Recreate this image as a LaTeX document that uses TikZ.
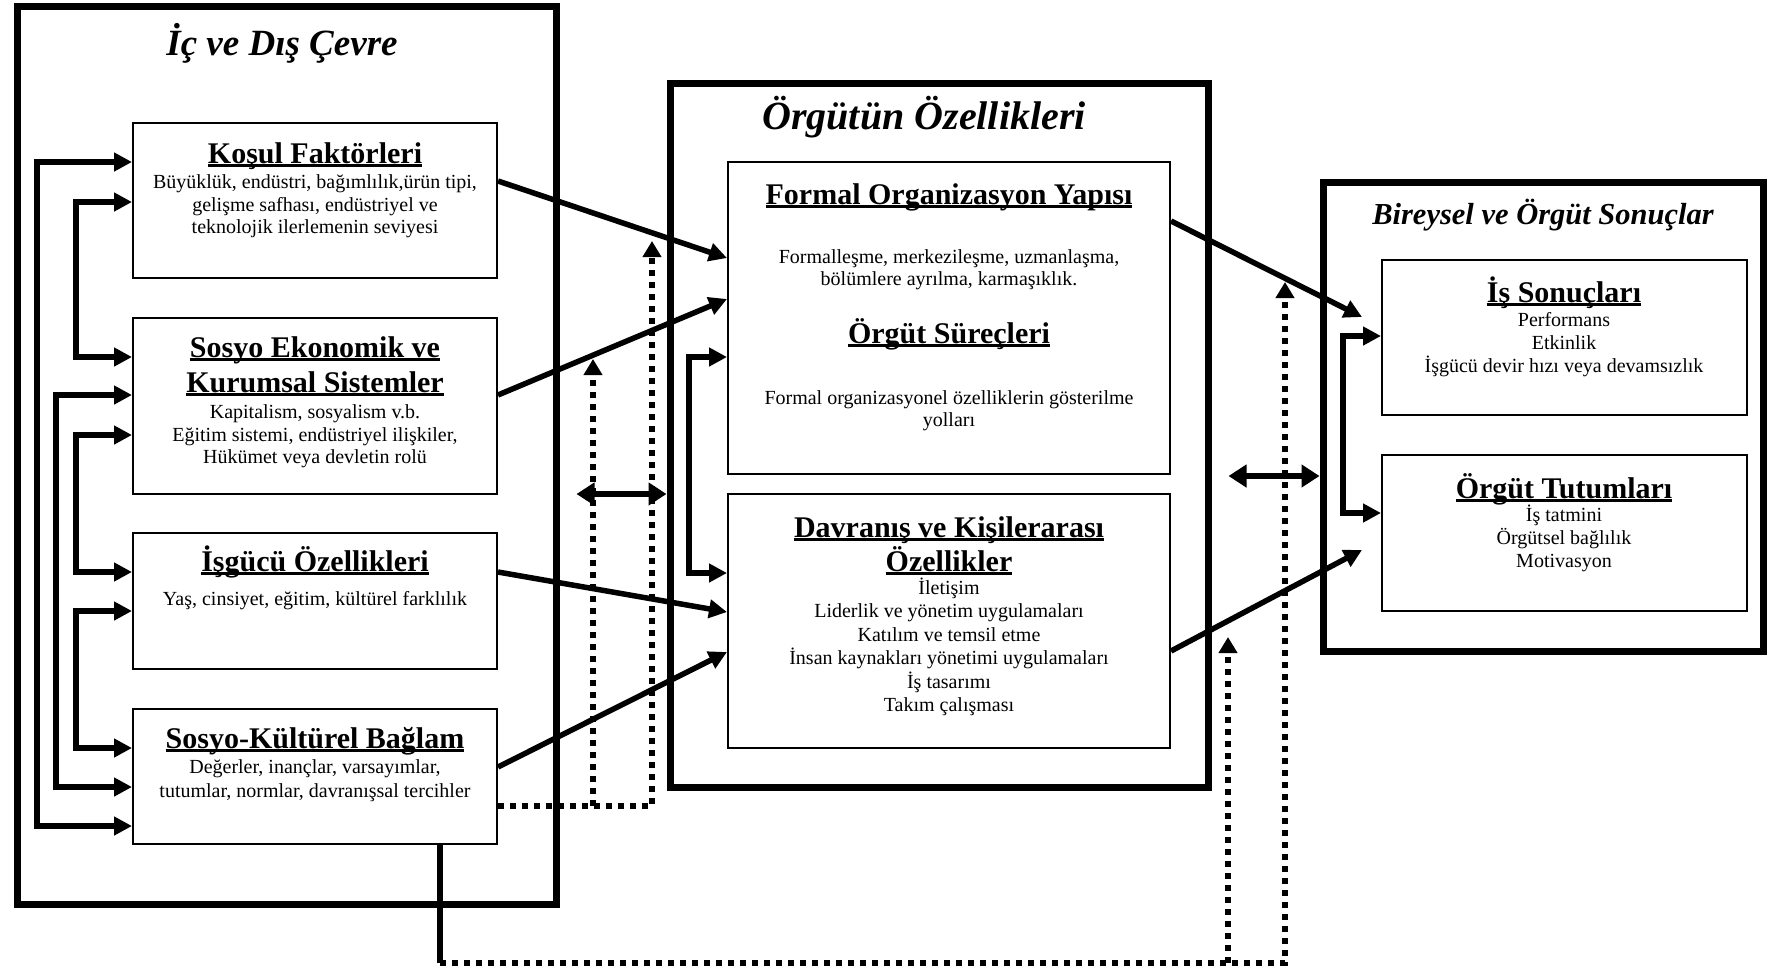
\documentclass[tikz,border=0pt]{standalone}
\usepackage{fontspec}
\setmainfont{Liberation Serif}
\usetikzlibrary{arrows.meta,calc}
\newcommand\myul[1]{\setbox0=\hbox{#1}\rlap{\rule[-3.5pt]{\wd0}{2.5pt}}\box0}
\begin{document}
\begin{tikzpicture}[x=1pt,y=-1pt,
  outerbox/.style={draw,line width=7pt,inner sep=0pt},
  inbox/.style={draw,line width=2pt,inner sep=0pt},
  conn/.style={line width=5.5pt,-{Triangle[length=18pt,width=18pt]}},
  brk/.style={line width=6pt,line join=miter,{Triangle[length=18pt,width=18pt]}-{Triangle[length=18pt,width=18pt]}},
  dbl/.style={line width=6.5pt,{Triangle[length=18pt,width=22pt]}-{Triangle[length=18pt,width=22pt]}},
  dotl/.style={line width=6pt,dash pattern=on 6pt off 6pt,-{Triangle[length=16pt,width=18pt]}},
  head/.style={inner sep=0pt,anchor=base,font=\fontsize{30}{34}\selectfont\bfseries},
  body/.style={inner sep=0pt,anchor=base,font=\fontsize{20}{23}\selectfont},
  ttl/.style={inner sep=0pt,anchor=base,font=\fontsize{37}{42}\selectfont\bfseries\itshape},
  ttlm/.style={inner sep=0pt,anchor=base,font=\fontsize{40}{45}\selectfont\bfseries\itshape},
  ttls/.style={inner sep=0pt,anchor=base,font=\fontsize{30.5}{34}\selectfont\bfseries\itshape}
]
\useasboundingbox (0,0) rectangle (1767,970);
\fill[white] (0,0) rectangle (1767,970);

% outer boxes
\node[outerbox,minimum width=539pt,minimum height=898pt] (env) at (286.5,455) {};
\node[outerbox,minimum width=538pt,minimum height=704pt] (org) at (939,435) {};
\node[outerbox,minimum width=440pt,minimum height=469pt] (res) at (1543,416.5) {};

% inner boxes
\node[inbox,minimum width=364pt,minimum height=155pt] (kosul) at (315,200.5) {};
\node[inbox,minimum width=364pt,minimum height=176pt] (sek) at (315,406) {};
\node[inbox,minimum width=364pt,minimum height=136pt] (isg) at (315,601) {};
\node[inbox,minimum width=364pt,minimum height=135pt] (skb) at (315,776.5) {};
\node[inbox,minimum width=442pt,minimum height=312pt] (formal) at (949,318) {};
\node[inbox,minimum width=442pt,minimum height=254pt] (dav) at (949,621) {};
\node[inbox,minimum width=365pt,minimum height=155pt] (issn) at (1564.5,337.5) {};
\node[inbox,minimum width=365pt,minimum height=156pt] (orgt) at (1564.5,533) {};

% titles
\node[ttl] (t1) at (282,55) {İç ve Dış Çevre};
\node[ttlm] (t2) at (924,129) {Örgütün Özellikleri};
\node[ttls] (t3) at (1543,224) {Bireysel ve Örgüt Sonuçlar};

% left texts
\node[head] (k0) at (315,163) {\myul{Koşul Faktörleri}};
\node[body] (k1) at (315,188) {Büyüklük, endüstri, bağımlılık,ürün tipi,};
\node[body] (k2) at (315,211) {gelişme safhası, endüstriyel ve};
\node[body] (k3) at (315,233) {teknolojik ilerlemenin seviyesi};

\node[head] (s0) at (315,357) {\myul{Sosyo Ekonomik ve}};
\node[head] (s0b) at (315,392) {\myul{Kurumsal Sistemler}};
\node[body] (s1) at (315,418) {Kapitalism, sosyalism v.b.};
\node[body] (s2) at (315,441) {Eğitim sistemi, endüstriyel ilişkiler,};
\node[body] (s3) at (315,463) {Hükümet veya devletin rolü};

\node[head] (i0) at (315,571) {\myul{İşgücü Özellikleri}};
\node[body] (i1) at (315,605) {Yaş, cinsiyet, eğitim, kültürel farklılık};

\node[head] (b0) at (315,748) {\myul{Sosyo-Kültürel Bağlam}};
\node[body] (b1) at (315,773) {Değerler, inançlar, varsayımlar,};
\node[body] (b2) at (315,797) {tutumlar, normlar, davranışsal tercihler};

% middle texts
\node[head] (f0) at (949,204) {\myul{Formal Organizasyon Yapısı}};
\node[body] (f1) at (949,263) {Formalleşme, merkezileşme, uzmanlaşma,};
\node[body] (f2) at (949,285) {bölümlere ayrılma, karmaşıklık.};
\node[head] (p0) at (949,343) {\myul{Örgüt Süreçleri}};
\node[body] (p1) at (949,404) {Formal organizasyonel özelliklerin gösterilme};
\node[body] (p2) at (949,426) {yolları};

\node[head] (d0) at (949,537) {\myul{Davranış ve Kişilerarası}};
\node[head] (d0b) at (949,571) {\myul{Özellikler}};
\node[body] (d1) at (949,594) {İletişim};
\node[body] (d2) at (949,617.5) {Liderlik ve yönetim uygulamaları};
\node[body] (d3) at (949,641) {Katılım ve temsil etme};
\node[body] (d4) at (949,664.5) {İnsan kaynakları yönetimi uygulamaları};
\node[body] (d5) at (949,688) {İş tasarımı};
\node[body] (d6) at (949,711.5) {Takım çalışması};

% right texts
\node[head] (r0) at (1564,302) {\myul{İş Sonuçları}};
\node[body] (r1) at (1564,326) {Performans};
\node[body] (r2) at (1564,349) {Etkinlik};
\node[body] (r3) at (1564,372) {İşgücü devir hızı veya devamsızlık};
\node[head] (o0) at (1564,498) {\myul{Örgüt Tutumları}};
\node[body] (o1) at (1564,521) {İş tatmini};
\node[body] (o2) at (1564,544) {Örgütsel bağlılık};
\node[body] (o3) at (1564,567) {Motivasyon};

% left brackets
\draw[brk] (kosul.west |- 0,162) -| (37,500) |- (skb.west |- 0,826);
\draw[brk] (kosul.west |- 0,202) -| (76,280) |- (sek.west |- 0,357);
\draw[brk] (sek.west |- 0,395) -| (56,600) |- (skb.west |- 0,787);
\draw[brk] (sek.west |- 0,435) -| (76,500) |- (isg.west |- 0,572);
\draw[brk] (isg.west |- 0,611) -| (76,680) |- (skb.west |- 0,748);

% middle and right brackets
\draw[brk] (formal.west |- 0,357) -| (689,460) |- (dav.west |- 0,573);
\draw[brk] (issn.west |- 0,336) -| (1343,420) |- (orgt.west |- 0,513);

% dotted feedback lines
\coordinate (j1) at (593,806);
\draw[dotl] (skb.east |- 0,806) -| (652,241);
\draw[dotl] (j1) -- (593,359);
\coordinate (c1) at (440,963);
\draw[line width=5.5pt] (skb.south -| c1) -- (c1);
\coordinate (j2) at (1228,963);
\draw[dotl] (c1) -| (1285,282);
\draw[dotl] (j2) -- (1228,637);

% diagonal arrows
\draw[conn] (kosul.east |- 0,181) -- (formal.west |- 0,258);
\draw[conn] (sek.east |- 0,395) -- (formal.west |- 0,299);
\draw[conn] (isg.east |- 0,572) -- (dav.west |- 0,612);
\draw[conn] (skb.east |- 0,767) -- (dav.west |- 0,652);
\draw[conn] (formal.east |- 0,221) -- (1362,317) coordinate (e1);
\draw[conn] (dav.east |- 0,651) -- (1362,550) coordinate (e2);

% double arrows
\draw[dbl] ($(env.east |- 0,494)+(17,0)$) -- (org.west |- 0,494);
\draw[dbl] ($(org.east |- 0,476)+(17,0)$) -- (res.west |- 0,476);
\end{tikzpicture}
\end{document}
